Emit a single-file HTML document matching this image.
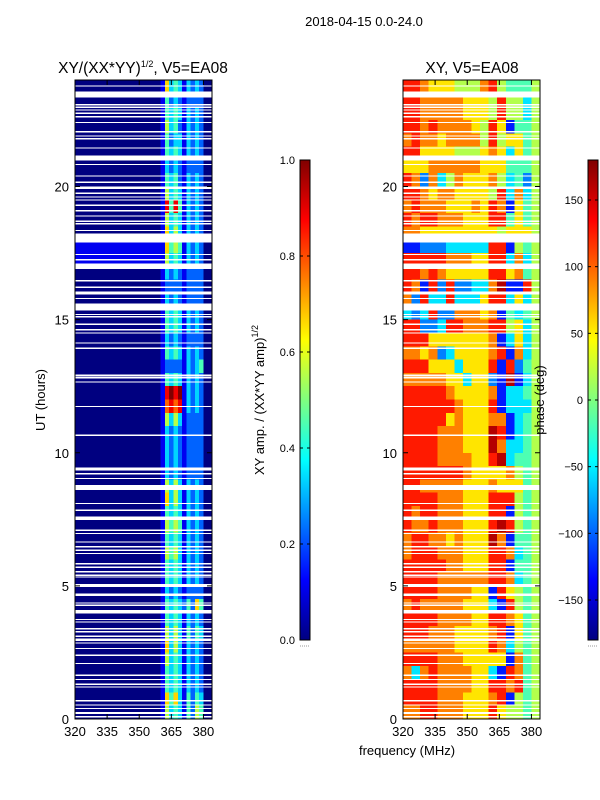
<!DOCTYPE html>
<html><head><meta charset="utf-8"><style>
html,body{margin:0;padding:0;background:#fff;}
svg{display:block;font-family:"Liberation Sans","DejaVu Sans",sans-serif;}
</style></head><body>
<svg id="fig" width="600" height="800" viewBox="0 0 600 800" xmlns="http://www.w3.org/2000/svg">
<defs>
<linearGradient id="jet" x1="0" y1="1" x2="0" y2="0">
<stop offset="0" stop-color="rgb(0,0,128)"/><stop offset="0.125" stop-color="rgb(0,0,255)"/>
<stop offset="0.375" stop-color="rgb(0,255,255)"/><stop offset="0.625" stop-color="rgb(255,255,0)"/>
<stop offset="0.875" stop-color="rgb(255,0,0)"/><stop offset="1" stop-color="rgb(128,0,0)"/>
</linearGradient>
</defs>
<text x="364" y="26" font-size="13" text-anchor="middle">2018-04-15 0.0-24.0</text>
<text x="143" y="73" font-size="15.5" text-anchor="middle">XY/(XX*YY)<tspan font-size="9" dy="-6">1/2</tspan><tspan dy="6">, V5=EA08</tspan></text>
<text x="472" y="73" font-size="15.5" text-anchor="middle">XY, V5=EA08</text>
<text x="0" y="0" font-size="13" text-anchor="middle" transform="translate(45,400) rotate(-90)">UT (hours)</text>
<text x="407" y="755" font-size="13" text-anchor="middle">frequency (MHz)</text>
<g id="left" shape-rendering="crispEdges"></g>
<g id="right" shape-rendering="crispEdges"></g>
<g id="axes"></g>
<g id="cbars"></g>
</svg>
<script>
// ---- data ----
const hourTicks = [0, 5, 10, 15, 20];
const freqTicks = [320, 335, 350, 365, 380];
const ampTicks = [0.0, 0.2, 0.4, 0.6, 0.8, 1.0];
const phaseTicks = [-150, -100, -50, 0, 50, 100, 150];
// amplitude rows, top (23.5-24h) to bottom (0-0.5h); char0 = 320-360 MHz level, then 12 bins of 2 MHz (360-384); digit/9
const ampRows = [
"0163431323200","0142321222200","0143431323200","0153421323200","0142331323200","0143431323200",
"0132321222200","0143421323200","0153431323200","0184841323200","0153431323200","0163531323200",
"1164541323200","1153431323200","0132321222200","0122221222200","0132321222200","0143431323200",
"0143431323200","0132321222200","0143431323200","0122221323400","0143431323200","0189891323200",
"0178781323200","0153531222200","0132321222200","0132321222200","0132321222200","0132321222200",
"0153531323200","0163531323200","0143431323200","0154541323200","0143431323200","0154531323200",
"0143431323200","0143431323200","0132321222200","0143432426400","0143431323200","0153531424300",
"0163531323200","0153431323200","0143431323200","0143431323200","0164631424300","0153431425400"];
// phase rows, top to bottom; 16 bins of 4 MHz (320-384); phase = -180 + (d+0.5)*36
const phaseRows = [
"8876665557854445","8877777666585535","8877777666585535","8878777765861445","7877677775856645","8866665556763645",
"6667777776664445","8727357666753425","8876776666583735","7877766676871645","8788777666884645","7766666666656665",
"1122233333881545","8888877766883735","8878766666886745","8718282233791185","7283383336883635","3238227776714345",
"8822388777885635","8886666666713635","7767236666781735","8886663666818245","7777766366219135","8888876666713345",
"8888887666813335","8888867666771345","8888777666981345","8888777666973345","8888777766893445","8888888766667545",
"8877777666766645","8888777666888545","8788777666881545","8778777666898545","7887767666971445","7888777666887345",
"8888877666881445","8888777777887345","8888777766186545","7877777666318545","8888777766887645","8887776666781645",
"7777776666873545","8888777666661745","7378777766318745","8888777766887845","8888777666781545","7788777666865545"];
// flagged (blanked) time intervals in hours [start, end]
const flags = [[23.75,23.8],[23.34,23.56],[23.05,23.1],[22.95,23.0],[22.85,22.9],[22.72,22.77],[22.6,22.65],[22.38,22.43],
[22.03,22.08],[21.87,21.92],[21.77,21.82],[21.42,21.47],[20.98,21.16],[20.8,20.85],[20.37,20.42],[20.13,20.18],[19.9,20.0],
[19.72,19.77],[19.58,19.63],[19.47,19.52],[19.27,19.32],[19.07,19.12],[18.87,18.92],[18.67,18.72],[18.57,18.62],[18.32,18.37],
[17.9,18.23],[17.42,17.47],[17.22,17.27],[16.9,17.1],[16.44,16.49],[16.19,16.24],[15.95,16.05],[15.77,15.82],[15.35,15.6],
[15.17,15.22],[15.08,15.13],[14.8,14.85],[14.6,14.65],[14.47,14.52],[14.1,14.15],[13.9,13.95],[12.87,12.93],[12.79,12.84],
[12.63,12.68],[11.71,11.76],[10.63,10.68],[9.34,9.44],[9.19,9.24],[9.01,9.06],[8.6,8.78],[8.07,8.12],[7.81,7.86],[7.47,7.6],
[7.06,7.11],[6.94,6.99],[6.62,6.67],[6.45,6.5],[6.31,6.36],[6.19,6.24],[5.81,5.86],[5.68,5.73],[5.5,5.55],[5.37,5.42],
[5.31,5.36],[4.96,5.07],[4.62,4.72],[4.33,4.38],[4.25,4.3],[3.97,4.09],[3.71,3.76],[3.62,3.67],[3.37,3.42],[3.25,3.3],
[3.08,3.13],[3.0,3.03],[2.93,2.98],[2.83,2.88],[2.62,2.67],[2.36,2.43],[2.06,2.11],[1.62,1.67],[1.46,1.51],[1.28,1.33],
[1.18,1.23],[0.65,0.71],[0.5,0.55],[0.37,0.42],[0.19,0.27],[0.06,0.11]];

// ---- scales ----
const Y0 = 719, Y1 = 80, TMAX = 24;
const yT = t => Y0 - t * (Y0 - Y1) / TMAX;
const panels = {left: 75, right: 403};
const PW = 137, FMIN = 320, FMAX = 384;
const xF = (x0, f) => x0 + (f - FMIN) * PW / (FMAX - FMIN);
function jet(v){
  v = Math.max(0, Math.min(1, v));
  const r = Math.max(0, Math.min(1, 1.5 - Math.abs(4*v - 3)));
  const g = Math.max(0, Math.min(1, 1.5 - Math.abs(4*v - 2)));
  const b = Math.max(0, Math.min(1, 1.5 - Math.abs(4*v - 1)));
  return `rgb(${Math.round(r*255)},${Math.round(g*255)},${Math.round(b*255)})`;
}
const NS = "http://www.w3.org/2000/svg";
function mk(tag, attrs, parent){
  const e = document.createElementNS(NS, tag);
  for (const k in attrs) e.setAttribute(k, attrs[k]);
  parent.appendChild(e); return e;
}
const nRows = ampRows.length, rowH = TMAX / nRows;

// ---- left heatmap ----
const gL = document.getElementById('left');
ampRows.forEach((row, i) => {
  const tTop = TMAX - i*rowH, tBot = tTop - rowH;
  const y = yT(tTop), h = yT(tBot) - y;
  const base = mk('rect', {x: xF(75,320), y: y, width: xF(75,360)-xF(75,320)+0.3, height: h+0.3, fill: jet(+row[0]/9)}, gL);
  
  
  for (let j = 1; j < row.length; j++){
    const f0 = 360 + (j-1)*2;
    const c = mk('rect', {x: xF(75,f0), y: y, width: xF(75,f0+2)-xF(75,f0)+0.3, height: h+0.3, fill: jet(+row[j]/9)}, gL);
    
    
  }
});
// ---- right heatmap ----
const gR = document.getElementById('right');
phaseRows.forEach((row, i) => {
  const tTop = TMAX - i*rowH, tBot = tTop - rowH;
  const y = yT(tTop), h = yT(tBot) - y;
  for (let j = 0; j < row.length; j++){
    const f0 = 320 + j*4;
    const ph = -180 + (+row[j] + 0.5) * 36;
    const c = mk('rect', {x: xF(403,f0), y: y, width: xF(403,f0+4)-xF(403,f0)+0.3, height: h+0.3, fill: jet((ph+180)/360)}, gR);
    
    
  }
});
// ---- flags ----
[['left',gL],['right',gR]].forEach(([k,g]) => {
  flags.forEach(fl => {
    const y = yT(fl[1]), h = Math.max(1.3, yT(fl[0]) - y);
    const r = mk('rect', {x: panels[k], y: y, width: PW, height: h, fill: '#fff'}, g);
    
    
  });
});
// ---- axes ----
const gA = document.getElementById('axes');
Object.entries(panels).forEach(([k, x0]) => {
  const fr = mk('rect', {x: x0, y: Y1, width: PW, height: Y0-Y1, fill: 'none', stroke: '#000', 'stroke-width': 1}, gA);
  
  
  freqTicks.forEach(f => {
    const x = xF(x0, f);
    mk('line', {x1: x, y1: Y0, x2: x, y2: Y0-5, stroke: '#000'}, gA);
    mk('line', {x1: x, y1: Y1, x2: x, y2: Y1+5, stroke: '#000'}, gA);
    const t = mk('text', {x: x, y: Y0+17, 'font-size': 13, 'text-anchor': 'middle'}, gA);
    t.textContent = f;
    
    
  });
  hourTicks.forEach(h => {
    const y = yT(h);
    mk('line', {x1: x0, y1: y, x2: x0+5, y2: y, stroke: '#000'}, gA);
    mk('line', {x1: x0+PW, y1: y, x2: x0+PW-5, y2: y, stroke: '#000'}, gA);
    const t = mk('text', {x: x0-6, y: y+5, 'font-size': 13, 'text-anchor': 'end'}, gA);
    t.textContent = h;
    
    
  });
});
// ---- colorbars ----
const gC = document.getElementById('cbars');
const CB0 = 640, CB1 = 160;
function cbar(x, ticks, vmin, vmax, name, label, lx){
  const r = mk('rect', {x: x, y: CB1, width: 10, height: CB0-CB1, fill: 'url(#jet)', stroke: '#000', 'stroke-width': 1}, gC);
  
  
  ticks.forEach(v => {
    const y = CB0 - (v - vmin)/(vmax - vmin)*(CB0-CB1);
    mk('line', {x1: x, y1: y, x2: x+3, y2: y, stroke: '#000'}, gC);
    mk('line', {x1: x+10, y1: y, x2: x+7, y2: y, stroke: '#000'}, gC);
    const t = mk('text', {x: x-5, y: y+4, 'font-size': 11, 'text-anchor': 'end'}, gC);
    t.textContent = (vmax <= 1) ? v.toFixed(1) : (v < 0 ? '\u2212' + Math.abs(v) : v);
    
    
  });
  mk('line', {x1: x, y1: 646, x2: x+10, y2: 646, stroke: '#999', 'stroke-dasharray': '1,1'}, gC);
  const l = mk('text', {x: 0, y: 0, 'font-size': 13, 'text-anchor': 'middle', transform: `translate(${lx},400) rotate(-90)`}, gC);
  l.innerHTML = label;
  
  
}
cbar(300, ampTicks, 0, 1, 'amplitude-colorbar', 'XY amp. / (XX*YY amp)<tspan font-size="9" dy="-6">1/2</tspan>', 264);
cbar(588, phaseTicks, -180, 180, 'phase-colorbar', 'phase (deg)', 544);
</script>
</body></html>
